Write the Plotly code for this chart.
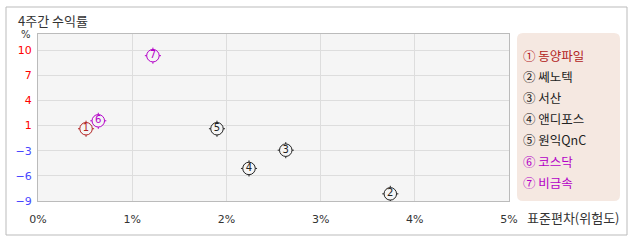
import plotly.graph_objects as go

names = ["동양파일", "쎄노텍", "서산", "앤디포스", "원익QnC", "코스닥", "비금속"]
nums = ["1", "2", "3", "4", "5", "6", "7"]
circled = ["①", "②", "③", "④", "⑤", "⑥", "⑦"]
risk = [0.51, 3.74, 2.63, 2.24, 1.90, 0.64, 1.22]
ret = [0.1, -8.1, -2.6, -4.9, 0.1, 1.1, 9.3]
colors = ["#b22222", "#222222", "#222222", "#222222", "#222222", "#b400c8", "#b400c8"]

y_min, y_max = -9, 10
y_steps = 6
y_tickvals = [y_min + k * (y_max - y_min) / y_steps for k in range(y_steps + 1)]
y_ticklabels = ["−9", "−6", "−3", "1", "4", "7", "10"]
x_tickvals = [0, 1, 2, 3, 4, 5]
x_ticklabels = ["0%", "1%", "2%", "3%", "4%", "5%"]

W, H = 638, 242
L, R, T, B = 38, 129, 34, 41
PW, PH = W - L - R, H - T - B


def px(x):
    return (x - L) / PW


def py(y):
    return (H - B - y) / PH


def ytxt(lbl):
    col = "#4848ff" if lbl.startswith("−") else "#ff0000"
    return f'<span style="color:{col}">{lbl}</span>'


fig = go.Figure()
fig.add_trace(go.Scatter(
    x=risk, y=ret, mode="markers", hoverinfo="skip",
    marker=dict(symbol="cross-thin", size=11.5, line=dict(width=1, color=colors)),
))
fig.add_trace(go.Scatter(
    x=risk, y=ret, mode="markers+text", text=nums, textposition="middle center",
    textfont=dict(size=10, color=colors, family="DejaVu Sans"),
    marker=dict(symbol="circle", size=12.5, color="#f5f5f5", line=dict(width=1, color=colors)),
))

shapes = [
    dict(type="rect", xref="paper", yref="paper", x0=px(6), x1=px(627), y0=py(7), y1=py(235),
         line=dict(color="#bbbbbb", width=1), fillcolor="rgba(0,0,0,0)", layer="below"),
]
# rounded legend box
x0, x1, y0, y1, r = 517, 620, 33, 201, 6
path = (f"M {px(x0 + r)},{py(y0)} L {px(x1 - r)},{py(y0)} Q {px(x1)},{py(y0)} {px(x1)},{py(y0 + r)} "
        f"L {px(x1)},{py(y1 - r)} Q {px(x1)},{py(y1)} {px(x1 - r)},{py(y1)} "
        f"L {px(x0 + r)},{py(y1)} Q {px(x0)},{py(y1)} {px(x0)},{py(y1 - r)} "
        f"L {px(x0)},{py(y0 + r)} Q {px(x0)},{py(y0)} {px(x0 + r)},{py(y0)} Z")
shapes.append(dict(type="path", xref="paper", yref="paper", path=path,
                   line=dict(width=0), fillcolor="#f5e8e1"))

font = "Noto Sans CJK KR"
annotations = [
    dict(text="4주간 수익률", xref="paper", yref="paper", x=px(16), y=py(21), xanchor="left",
         yanchor="middle", showarrow=False, font=dict(size=13, color="#333", family=font)),
    dict(text="%", xref="paper", yref="paper", x=px(26), y=py(34), xanchor="center",
         yanchor="middle", showarrow=False, font=dict(size=10, color="#333", family="DejaVu Sans")),
    dict(text="표준편차(위험도)", xref="paper", yref="paper", x=px(622), y=py(217), xanchor="right",
         yanchor="middle", showarrow=False, font=dict(size=13, color="#333", family=font)),
]
for i, (c, n, col) in enumerate(zip(circled, names, colors)):
    annotations.append(dict(text=f"{c} {n}", xref="paper", yref="paper", x=px(521), y=py(55 + i * 21.2),
                            xanchor="left", yanchor="middle", showarrow=False,
                            font=dict(size=12.5, color=col, family=font)))

fig.update_layout(
    width=W, height=H, margin=dict(l=L, r=R, t=T, b=B),
    paper_bgcolor="white", plot_bgcolor="#f5f5f5", showlegend=False,
    shapes=shapes, annotations=annotations,
    xaxis=dict(range=[0, 5], tickvals=x_tickvals, ticktext=x_ticklabels, showgrid=True,
               gridcolor="#dddddd", gridwidth=1, zeroline=False, showline=True, linecolor="#bbbbbb",
               mirror=True, ticks="", ticklabelstandoff=8,
               tickfont=dict(size=11, color="#333", family="DejaVu Sans")),
    yaxis=dict(range=[y_min, 12.03], tickvals=y_tickvals, ticktext=[ytxt(t) for t in y_ticklabels],
               showgrid=True, gridcolor="#dddddd", gridwidth=1, zeroline=False, showline=True,
               linecolor="#bbbbbb", mirror=True, ticks="", ticklabelstandoff=3,
               tickfont=dict(size=11, family="DejaVu Sans")),
)
fig.write_html("out.html")
